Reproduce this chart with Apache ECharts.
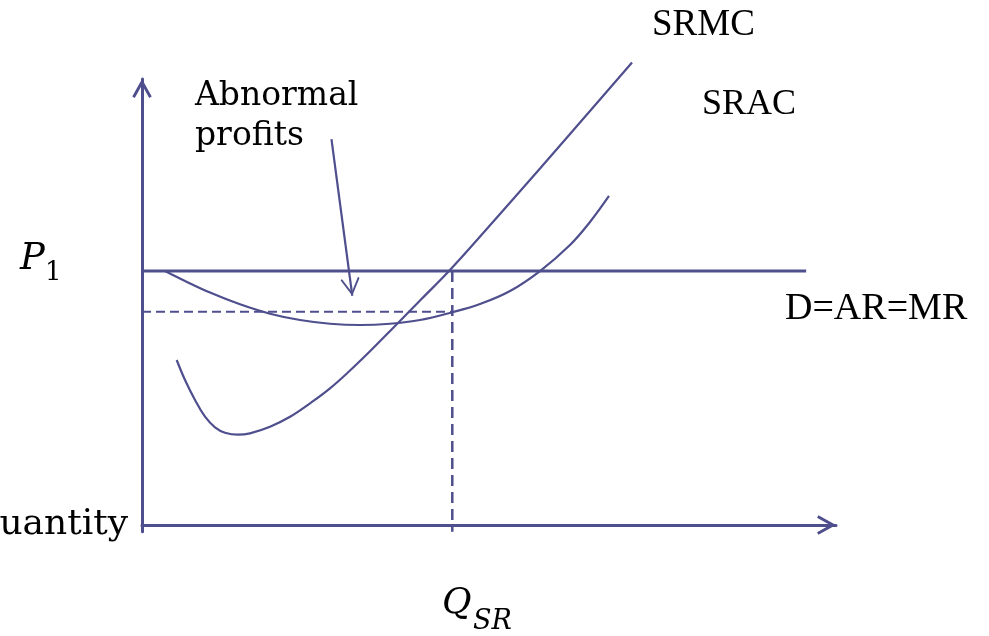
<!DOCTYPE html>
<html>
<head>
<meta charset="utf-8">
<script src="https://cdn.jsdelivr.net/npm/echarts@6/dist/echarts.min.js"></script>
<style>
  html, body { margin: 0; padding: 0; background: #fff; }
  #chart { width: 989px; height: 636px; }
</style>
</head>
<body>
<div id="chart"></div>
<script>
// short run: firm earning abnormal profits at P1

// SRMC curve (quantity, cost)
const srmc = [
  [5.00, 37.00], [6.20, 32.51], [7.64, 28.03], [9.08, 24.28], [10.52, 21.91],
  [11.96, 20.70], [13.83, 20.25], [15.56, 20.56], [18.44, 22.04], [21.33, 24.28],
  [24.21, 27.29], [27.09, 30.65], [29.97, 34.64], [32.85, 38.95], [36.46, 44.64],
  [40.06, 50.34], [44.24, 56.95], [49.42, 65.92], [57.35, 79.93], [64.55, 92.83],
  [70.61, 103.70]
];
// SRAC curve
const srac = [
  [3.31, 56.95], [6.20, 54.71], [9.80, 52.11], [14.12, 49.48], [18.44, 47.38],
  [22.77, 45.96], [27.09, 45.13], [31.41, 44.84], [35.73, 45.13], [40.06, 45.96],
  [44.71, 47.70], [48.70, 49.55], [53.03, 52.47], [57.35, 56.95], [61.67, 62.78],
  [64.55, 67.94], [67.29, 73.77]
];
const priceP1 = 56.95;   // D = AR = MR
const demandEnd = 95.7;
const qSR = 44.71;       // output where MC = MR
const acAtQ = 47.8;      // average cost at qSR
const yMin = -1.5;
const arrowFrom = [27.3, 86.5];
const arrowTo = [30.3, 51.4];

const ink = '#4f4f8e';
const chevron = 'path://M0,18 L10,0 L20,18 L17.4,19.5 L10,6.2 L2.6,19.5 Z';
const chevronThin = 'path://M0,18 L10,0 L20,18 L18.55,19.5 L10,4.1 L1.45,19.5 Z';

const axisCommon = {
  axisLine: {
    show: true, onZero: true,
    symbol: ['none', chevron], symbolSize: [21, 19], symbolOffset: [0, -9.5],
    lineStyle: { color: ink, width: 3 }
  },
  axisTick: { show: false },
  axisLabel: { show: false },
  splitLine: { show: false }
};

function label(text, x, y, font, align) {
  return {
    type: 'text', x: x, y: y, silent: true,
    style: { text: text, font: font, fill: '#000', textAlign: align || 'left', textVerticalAlign: 'middle' }
  };
}

const option = {
  animation: false,
  grid: { left: 142, right: 153, top: 79, bottom: 104.3 },
  xAxis: Object.assign({ type: 'value', min: 0, max: 100 }, axisCommon),
  yAxis: Object.assign({ type: 'value', min: yMin, max: 100 }, axisCommon),
  series: [
    {
      name: 'SRMC', type: 'line', data: srmc, smooth: 0.4, clip: false,
      showSymbol: false, lineStyle: { color: ink, width: 2.2 }
    },
    {
      name: 'SRAC', type: 'line', data: srac, smooth: 0.4, clip: false,
      showSymbol: false, lineStyle: { color: ink, width: 2.2 }
    },
    {
      name: 'P1', type: 'line', data: [[0, priceP1], [demandEnd, priceP1]],
      showSymbol: false, lineStyle: { color: ink, width: 3 }
    },
    {
      type: 'line', data: [[0, acAtQ], [qSR, acAtQ]],
      showSymbol: false, lineStyle: { color: ink, width: 2, type: [9, 5] }
    },
    {
      type: 'line', data: [[qSR, priceP1], [qSR, yMin]], clip: false,
      showSymbol: false, lineStyle: { color: ink, width: 2.5, type: [11, 6] },
      markLine: {
        silent: true, animation: false,
        symbol: ['none', chevronThin], symbolSize: [19, 18],
        label: { show: false },
        lineStyle: { color: ink, width: 2.2, type: 'solid' },
        data: [[{ coord: arrowFrom }, { coord: arrowTo, symbolOffset: [0, '50%'] }]]
      }
    }
  ],
  graphic: [
    label('SRMC', 652, 25, '37px "Liberation Serif"'),
    label('SRAC', 702, 105, '36px "Liberation Serif"'),
    label('D=AR=MR', 785, 309.5, '38px "Liberation Serif"'),
    label('Abnormal', 195, 96.5, '33px "DejaVu Serif"'),
    label('profits', 195, 136.5, '33px "DejaVu Serif"'),
    label('Quantity', 128, 524.5, '36px "DejaVu Serif"', 'right'),
    label('P', 20, 259, 'italic 37px "DejaVu Serif"'),
    label('1', 45, 273, '26px "DejaVu Serif"'),
    label('Q', 442, 604, 'italic 36px "DejaVu Serif"'),
    label('SR', 473, 622, 'italic 27px "DejaVu Serif"')
  ]
};

const chart = echarts.init(document.getElementById('chart'));
chart.setOption(option);
</script>
</body>
</html>
